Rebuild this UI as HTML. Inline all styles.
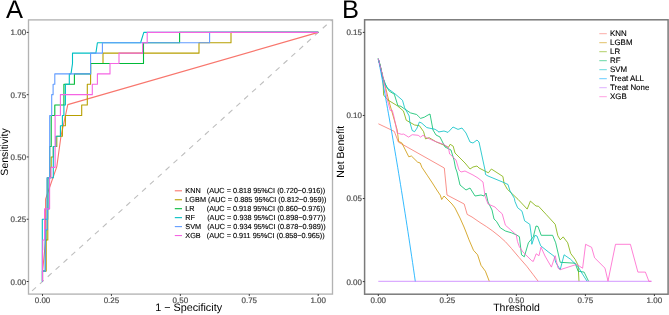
<!DOCTYPE html>
<html><head><meta charset="utf-8"><style>
html,body{margin:0;padding:0;background:#fff;width:669px;height:315px;overflow:hidden}
svg{display:block;will-change:transform}
text{font-family:"Liberation Sans",sans-serif;text-rendering:geometricPrecision}
</style></head><body>
<svg width="669" height="315" viewBox="0 0 669 315">
<rect width="669" height="315" fill="#fff"/>
<text x="6.1" y="17.5" font-size="25.5" fill="#000">A</text>
<text x="342.0" y="17.5" font-size="25.5" fill="#000">B</text>
<g fill="none" stroke-linejoin="round">
<clipPath id="ca"><rect x="28.5" y="19.9" width="304.0" height="274.20000000000005"/></clipPath>
<line x1="28.5" y1="294.15" x2="332.5" y2="19.48" stroke="#BEBEBE" stroke-width="1.1" stroke-dasharray="5.3 5.29" stroke-dashoffset="5.83" clip-path="url(#ca)"/>
<polyline points="42.5,281.5 42.5,271.1 43.5,262 45.6,240 45.6,199.1 48.7,190 56.8,166.6 61,136 64.5,120 67.8,104.6 318.2,32.4" stroke="#F8766D" stroke-width="1.1"/>
<polyline points="42.5,281.5 42.5,271.12 46.2,271.12 46.2,260.74 46.2,250.36 46.2,239.98 47.8,239.98 47.8,229.6 47.8,219.22 47.8,208.85 47.8,198.47 47.8,188.09 47.8,177.71 50.5,177.71 50.5,167.33 51.2,167.33 51.2,156.95 53.3,156.95 53.3,146.57 56.8,146.57 56.8,136.19 62.4,136.19 62.4,125.81 65.4,125.81 65.4,115.43 81.7,115.43 81.7,105.05 87.3,105.05 87.3,94.67 87.3,84.3 90.6,84.3 90.6,73.92 90.6,63.54 103,63.54 103,53.16 199,53.16 199,42.78 231,42.78 231,32.4 318.2,32.4" stroke="#B79F00" stroke-width="1.1"/>
<polyline points="42.5,281.5 42.5,271.12 45.3,271.12 45.3,260.74 45.3,250.36 45.3,239.98 46,239.98 46,229.6 47.2,229.6 47.2,219.22 47.2,208.85 47.2,198.47 47.2,188.09 47.2,177.71 49.7,177.71 49.7,167.33 49.7,156.95 49.7,146.57 51.2,146.57 51.2,136.19 51.2,125.81 51.2,115.43 54.8,115.43 54.8,105.05 63.9,105.05 63.9,94.67 63.9,84.3 74.4,84.3 74.4,73.92 90.6,73.92 90.6,63.54 143.5,63.54 143.5,53.16 143.5,42.78 179.6,42.78 179.6,32.4 318.2,32.4" stroke="#00BA38" stroke-width="1.1"/>
<polyline points="42.5,281.5 42.3,281.5 42.3,271.12 42.3,260.74 42.3,250.36 42.3,239.98 42.3,229.6 42.3,219.22 47.7,219.22 47.7,208.85 49,208.85 49,198.47 49,188.09 49,177.71 53.3,177.71 53.3,167.33 53.3,156.95 53.3,146.57 55.8,146.57 55.8,136.19 60.4,136.19 60.4,125.81 62.4,125.81 62.4,115.43 63.9,115.43 63.9,105.05 65.4,105.05 65.4,94.67 65.4,84.3 69.3,84.3 69.3,73.92 71,73.92 72.5,63.54 72.5,53.16 95.9,53.16 97.4,42.78 140.6,42.78 143.8,32.4 318.2,32.4" stroke="#00BFC4" stroke-width="1.1"/>
<polyline points="42.5,281.5 42.5,271.12 45.3,271.12 45.3,260.74 45.3,250.36 45.3,239.98 45.3,229.6 47.2,229.6 47.2,219.22 47.2,208.85 47.2,198.47 47.2,188.09 47.2,177.71 49.7,177.71 49.7,167.33 49.7,156.95 49.7,146.57 49.7,136.19 49.7,125.81 49.7,115.43 51.7,115.43 51.7,105.05 51.7,94.67 53.1,94.67 53.1,84.3 54.8,84.3 54.8,73.92 90.6,73.92 90.6,63.54 90.6,53.16 102.4,53.16 102.4,42.78 209.6,42.78 209.6,32.4 318.2,32.4" stroke="#619CFF" stroke-width="1.1"/>
<polyline points="42.5,281.5 42.5,271.12 42.5,260.74 42.5,250.36 42.7,250.36 42.7,239.98 44.6,239.98 44.6,229.6 44.6,219.22 44.6,208.85 49.6,208.85 49.6,198.47 49.6,188.09 49.6,177.71 51,177.71 51,167.33 55.1,167.33 55.1,156.95 55.1,146.57 55.1,136.19 55.1,125.81 55.1,115.43 60.4,115.43 60.4,105.05 60.4,94.67 92.3,94.67 92.3,84.3 97.4,84.3 97.4,73.92 110,73.92 110,63.54 119,63.54 119,53.16 142.6,53.16 142.6,42.78 147.2,42.78 147.2,32.4 318.2,32.4" stroke="#F564E3" stroke-width="1.1"/>
</g>
<rect x="28.5" y="19.9" width="304.0" height="274.20000000000005" fill="none" stroke="#B3B3B3" stroke-width="1.35"/>
<line x1="26.7" y1="281.5" x2="28.5" y2="281.5" stroke="#333" stroke-width="1"/>
<text x="26.1" y="285" font-size="8" fill="#4D4D4D" stroke="#4D4D4D" stroke-width="0.2" text-anchor="end">0.00</text>
<line x1="42.5" y1="294.1" x2="42.5" y2="295.9" stroke="#333" stroke-width="1"/>
<text x="42.5" y="302.6" font-size="8" fill="#4D4D4D" stroke="#4D4D4D" stroke-width="0.2" text-anchor="middle">0.00</text>
<line x1="26.7" y1="219.22" x2="28.5" y2="219.22" stroke="#333" stroke-width="1"/>
<text x="26.1" y="222" font-size="8" fill="#4D4D4D" stroke="#4D4D4D" stroke-width="0.2" text-anchor="end">0.25</text>
<line x1="111.42" y1="294.1" x2="111.42" y2="295.9" stroke="#333" stroke-width="1"/>
<text x="111.42" y="302.6" font-size="8" fill="#4D4D4D" stroke="#4D4D4D" stroke-width="0.2" text-anchor="middle">0.25</text>
<line x1="26.7" y1="156.95" x2="28.5" y2="156.95" stroke="#333" stroke-width="1"/>
<text x="26.1" y="160" font-size="8" fill="#4D4D4D" stroke="#4D4D4D" stroke-width="0.2" text-anchor="end">0.50</text>
<line x1="180.35" y1="294.1" x2="180.35" y2="295.9" stroke="#333" stroke-width="1"/>
<text x="180.35" y="302.6" font-size="8" fill="#4D4D4D" stroke="#4D4D4D" stroke-width="0.2" text-anchor="middle">0.50</text>
<line x1="26.7" y1="94.68" x2="28.5" y2="94.68" stroke="#333" stroke-width="1"/>
<text x="26.1" y="98" font-size="8" fill="#4D4D4D" stroke="#4D4D4D" stroke-width="0.2" text-anchor="end">0.75</text>
<line x1="249.27" y1="294.1" x2="249.27" y2="295.9" stroke="#333" stroke-width="1"/>
<text x="249.27" y="302.6" font-size="8" fill="#4D4D4D" stroke="#4D4D4D" stroke-width="0.2" text-anchor="middle">0.75</text>
<line x1="26.7" y1="32.4" x2="28.5" y2="32.4" stroke="#333" stroke-width="1"/>
<text x="26.1" y="35" font-size="8" fill="#4D4D4D" stroke="#4D4D4D" stroke-width="0.2" text-anchor="end">1.00</text>
<line x1="318.2" y1="294.1" x2="318.2" y2="295.9" stroke="#333" stroke-width="1"/>
<text x="318.2" y="302.6" font-size="8" fill="#4D4D4D" stroke="#4D4D4D" stroke-width="0.2" text-anchor="middle">1.00</text>
<text x="188.6" y="311.2" font-size="10.8" fill="#000" text-anchor="middle">1 − Specificity</text>
<text transform="translate(8.0,152.0) rotate(-90)" font-size="10.5" fill="#000" text-anchor="middle">Sensitivity</text>
<line x1="174.8" y1="190.8" x2="182" y2="190.8" stroke="#F8766D" stroke-width="1.1"/>
<text x="185.3" y="193.4" font-size="7.3" fill="#000" stroke="#000" stroke-width="0.12" style="white-space:pre">KNN   (AUC = 0.818 95%CI (0.720−0.916))</text>
<line x1="174.8" y1="199.75" x2="182" y2="199.75" stroke="#B79F00" stroke-width="1.1"/>
<text x="185.3" y="202.3" font-size="7.3" fill="#000" stroke="#000" stroke-width="0.12" style="white-space:pre">LGBM (AUC = 0.885 95%CI (0.812−0.959))</text>
<line x1="174.8" y1="208.7" x2="182" y2="208.7" stroke="#00BA38" stroke-width="1.1"/>
<text x="185.3" y="211.2" font-size="7.3" fill="#000" stroke="#000" stroke-width="0.12" style="white-space:pre">LR      (AUC = 0.918 95%CI (0.860−0.976))</text>
<line x1="174.8" y1="217.65" x2="182" y2="217.65" stroke="#00BFC4" stroke-width="1.1"/>
<text x="185.3" y="220.1" font-size="7.3" fill="#000" stroke="#000" stroke-width="0.12" style="white-space:pre">RF      (AUC = 0.938 95%CI (0.898−0.977))</text>
<line x1="174.8" y1="226.6" x2="182" y2="226.6" stroke="#619CFF" stroke-width="1.1"/>
<text x="185.3" y="229" font-size="7.3" fill="#000" stroke="#000" stroke-width="0.12" style="white-space:pre">SVM   (AUC = 0.934 95%CI (0.878−0.989))</text>
<line x1="174.8" y1="235.55" x2="182" y2="235.55" stroke="#F564E3" stroke-width="1.1"/>
<text x="185.3" y="237.9" font-size="7.3" fill="#000" stroke="#000" stroke-width="0.12" style="white-space:pre">XGB   (AUC = 0.911 95%CI (0.858−0.965))</text>
<clipPath id="cb"><rect x="364.6" y="19.8" width="303.5" height="274.4"/></clipPath>
<g fill="none" stroke-linejoin="round" clip-path="url(#cb)">
<polyline points="378.4,123.8 394.3,131.4 398.4,142.1 444.3,168 447,195 464.2,204 467.2,214.4 472,217 480,222.5 486.3,226.5 492.7,231 499,236 505.4,241.7 511.5,248.5 519,257.4 526.7,266.2 533.3,274.8 538.2,281.3" stroke="#F8766D" stroke-width="0.8"/>
<polyline points="378.3,58.7 383.5,79 388.6,100 394.3,120 397.2,130 398.6,141.4 401.8,142.9 408.8,156.8 411.4,156 417.6,162.1 420.2,163 421.9,167.3 427.2,175.2 432.4,183 436.8,190 440.3,195.2 441.7,199.5 444,196 448,200 452,204 455,208 460,218 464,227 466,232 469,239.8 473.5,250.3 477.6,254.8 481,265.3 485.4,271.2 489.3,281.3" stroke="#CD9600" stroke-width="0.8"/>
<polyline points="378.2,58.8 379.9,64.5 381.3,70.5 382.4,76.5 383,79.4 383.6,95.1 388.2,100.2 397.4,105.8 403.4,110.9 405,116 406.2,120.2 414.6,125 419.4,125.7 423.6,131.7 425.5,138.9 429.1,137.7 436.3,141.9 443.6,145 448.4,147.4 450.2,144.3 453.2,146.2 455,153 460,158 465,163 470,169 473,167 477,166 479,168 488.4,172.8 491.4,169 502.9,176.5 504.1,183.5 507.3,189.2 518.1,199.4 527.2,209.1 530.4,201.1 536,206 538.6,206.3 546.4,214.7 555.2,224.3 557.8,235.7 560.2,239.8 563.2,236.9 567.7,242.8 570.6,253.3 575.1,259.3 578.1,265.3 579,281.3" stroke="#7CAE00" stroke-width="0.8"/>
<polyline points="378.2,58.8 379.9,64.5 381.3,70.5 382.4,76.5 385.2,84 389.2,91.1 394.3,94.2 397.9,105.8 400.9,106.3 404.5,108.9 410.5,112.9 416.6,114.5 418.2,116 420.6,118.4 424.3,117.2 428,115 430,114 433,130 436,135 440,137 445,147 451,150 454,160 455.5,168 457,172 460,185 466,190 470,188 475,196 481,195 484,196 486,193 488,202 492,210 494,219 496.5,221.4 500.3,227.8 505.4,231 511.7,232.9 516.2,234.8 519.4,236.7 521.5,254.8 524.3,256.8 528.4,242.8 533.3,236.9 536,226 538,226.5 541.2,235.3 552.6,235.3 555.7,242.8 560.2,262.3 575.1,263.2 578.1,271.2 584.1,272.1 588.6,281.3" stroke="#00BE67" stroke-width="0.8"/>
<polyline points="378.2,58.8 379.9,64.5 381.3,70.5 382.4,76.5 386.8,87.7 395.2,94 402.5,100.3 404.6,107.7 409.2,116 409.8,122 412.2,130.5 414.6,131.7 417,128.1 419.4,122 421.8,123.2 426.7,127.5 429.1,128.1 435.1,129.3 438.7,131.7 438.5,132 444,131 448,132.4 453,127 458,129.4 462,128 466,133 470,142 473,143 477,140 479,142 482,156 485,170 485.5,174.5 488,176 503,182.2 508,184.5 510,191 514.3,198.2 515,201.6 517.6,207.7 522,211.2 524.6,220.8 529.8,224.3 531.6,237.4 531.8,244.3 534.8,235.4 537,236 540.7,245.8 548.2,251.8 554.2,256.3 555.7,262.3 560.2,269.7 564.1,254.8 570.6,259.3 578.1,266.7 582.6,274.2 587.1,281.3" stroke="#00BFC4" stroke-width="0.8"/>
<polyline points="378.3,58.7 379.23,63.54 380.15,68.41 381.08,73.32 382,78.26 382.93,83.24 383.86,88.24 384.78,93.29 385.71,98.36 386.63,103.48 387.56,108.62 388.49,113.81 389.41,119.03 390.34,124.28 391.27,129.58 392.19,134.91 393.12,140.28 394.04,145.68 394.97,151.13 395.9,156.61 396.82,162.14 397.75,167.7 398.67,173.3 399.6,178.95 400.53,184.63 401.45,190.36 402.38,196.13 403.3,201.94 404.23,207.8 405.16,213.7 406.08,219.64 407.01,225.63 407.94,231.66 408.86,237.74 409.79,243.86 410.71,250.03 411.64,256.25 412.57,262.51 413.49,268.83 414.42,275.19 415.34,281.6" stroke="#00A9FF" stroke-width="0.8"/>
<polyline points="378.3,281.3 651.6,281.3" stroke="#C77CFF" stroke-width="0.8"/>
<polyline points="378.3,58.7 383.5,79 387.2,99.2 390.2,110.4 392.3,110.4 393.8,116 395.5,124 397.1,132.9 401.4,134.3 403.7,134.1 408.6,137.1 412.2,134.7 418.2,135.3 420.6,137.1 423,135.3 426.7,137.7 436.3,141.9 443.6,144.3 448.4,147.4 449.6,154 450.7,154.8 456,160 459,170 461,172 465,171 473,175 478,178 483,182 485,196 488,204 495,207 497.8,210 502.2,213.8 505.4,225.2 510.5,229.7 516.2,234.8 517.5,241.7 519.4,246.8 522.8,251.8 531.8,260.8 533.3,261.4 536.2,253.8 539,255.7 541,247.1 545,256 551.4,267.1 555.2,255.7 558,268.1 560.2,269.7 576.6,264.4 582.6,268.2 585.6,244.3 591.6,247.3 594.6,257.8 605,268.2 608,281.1 615.5,244.3 630.4,244.3 637.9,272.1 645.4,272.1 648.9,281.3 651.3,281.3" stroke="#FF61CC" stroke-width="0.8"/>
</g>
<rect x="364.6" y="19.8" width="303.5" height="274.4" fill="none" stroke="#7A7A7A" stroke-width="1.5"/>
<line x1="362.8" y1="281.6" x2="364.6" y2="281.6" stroke="#333" stroke-width="1"/>
<text x="362.0" y="285" font-size="8" fill="#4D4D4D" stroke="#4D4D4D" stroke-width="0.2" text-anchor="end">0.00</text>
<line x1="362.8" y1="198.53" x2="364.6" y2="198.53" stroke="#333" stroke-width="1"/>
<text x="362.0" y="201" font-size="8" fill="#4D4D4D" stroke="#4D4D4D" stroke-width="0.2" text-anchor="end">0.05</text>
<line x1="362.8" y1="115.47" x2="364.6" y2="115.47" stroke="#333" stroke-width="1"/>
<text x="362.0" y="118" font-size="8" fill="#4D4D4D" stroke="#4D4D4D" stroke-width="0.2" text-anchor="end">0.10</text>
<line x1="362.8" y1="32.4" x2="364.6" y2="32.4" stroke="#333" stroke-width="1"/>
<text x="362.0" y="35" font-size="8" fill="#4D4D4D" stroke="#4D4D4D" stroke-width="0.2" text-anchor="end">0.15</text>
<line x1="378.3" y1="294.2" x2="378.3" y2="296" stroke="#333" stroke-width="1"/>
<text x="378.3" y="302.6" font-size="8" fill="#4D4D4D" stroke="#4D4D4D" stroke-width="0.2" text-anchor="middle">0.00</text>
<line x1="447.32" y1="294.2" x2="447.32" y2="296" stroke="#333" stroke-width="1"/>
<text x="447.32" y="302.6" font-size="8" fill="#4D4D4D" stroke="#4D4D4D" stroke-width="0.2" text-anchor="middle">0.25</text>
<line x1="516.35" y1="294.2" x2="516.35" y2="296" stroke="#333" stroke-width="1"/>
<text x="516.35" y="302.6" font-size="8" fill="#4D4D4D" stroke="#4D4D4D" stroke-width="0.2" text-anchor="middle">0.50</text>
<line x1="585.38" y1="294.2" x2="585.38" y2="296" stroke="#333" stroke-width="1"/>
<text x="585.38" y="302.6" font-size="8" fill="#4D4D4D" stroke="#4D4D4D" stroke-width="0.2" text-anchor="middle">0.75</text>
<line x1="654.4" y1="294.2" x2="654.4" y2="296" stroke="#333" stroke-width="1"/>
<text x="654.4" y="302.6" font-size="8" fill="#4D4D4D" stroke="#4D4D4D" stroke-width="0.2" text-anchor="middle">1.00</text>
<text x="516.5" y="310.6" font-size="10.5" fill="#000" text-anchor="middle">Threshold</text>
<text transform="translate(343.8,151.7) rotate(-90)" font-size="10.5" fill="#000" text-anchor="middle">Net Benefit</text>
<line x1="599.3" y1="33.7" x2="606.8" y2="33.7" stroke="#F8766D" stroke-width="0.6"/>
<text x="610.1" y="36.2" font-size="7.9" fill="#000" stroke="#000" stroke-width="0.12">KNN</text>
<line x1="599.3" y1="42.7" x2="606.8" y2="42.7" stroke="#CD9600" stroke-width="0.6"/>
<text x="610.1" y="45.2" font-size="7.9" fill="#000" stroke="#000" stroke-width="0.12">LGBM</text>
<line x1="599.3" y1="51.7" x2="606.8" y2="51.7" stroke="#7CAE00" stroke-width="0.6"/>
<text x="610.1" y="54.2" font-size="7.9" fill="#000" stroke="#000" stroke-width="0.12">LR</text>
<line x1="599.3" y1="60.7" x2="606.8" y2="60.7" stroke="#00BE67" stroke-width="0.6"/>
<text x="610.1" y="63.2" font-size="7.9" fill="#000" stroke="#000" stroke-width="0.12">RF</text>
<line x1="599.3" y1="69.7" x2="606.8" y2="69.7" stroke="#00BFC4" stroke-width="0.6"/>
<text x="610.1" y="72.2" font-size="7.9" fill="#000" stroke="#000" stroke-width="0.12">SVM</text>
<line x1="599.3" y1="78.7" x2="606.8" y2="78.7" stroke="#00A9FF" stroke-width="0.6"/>
<text x="610.1" y="81.2" font-size="7.9" fill="#000" stroke="#000" stroke-width="0.12">Treat ALL</text>
<line x1="599.3" y1="87.7" x2="606.8" y2="87.7" stroke="#C77CFF" stroke-width="0.6"/>
<text x="610.1" y="90.2" font-size="7.9" fill="#000" stroke="#000" stroke-width="0.12">Treat None</text>
<line x1="599.3" y1="96.7" x2="606.8" y2="96.7" stroke="#FF61CC" stroke-width="0.6"/>
<text x="610.1" y="99.2" font-size="7.9" fill="#000" stroke="#000" stroke-width="0.12">XGB</text>
</svg></body></html>
